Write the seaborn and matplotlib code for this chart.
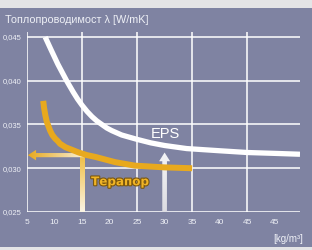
import numpy as np
import pandas as pd
import seaborn as sns
import matplotlib
matplotlib.use("Agg")
import matplotlib.pyplot as plt
from matplotlib.patches import FancyArrow, Arc, Rectangle
import matplotlib.patheffects as pe
from matplotlib.colors import LinearSegmentedColormap

# ---- data ----
eps_density = [8.3, 9.4, 10.6, 12.2, 13.4, 14.2, 15.0, 15.9, 16.8, 17.7, 18.6, 19.5, 20.4,
               22.2, 25.0, 27.5, 30.0, 34.0, 40.0, 45.0, 50.0, 54.6]
eps_lambda = [0.0450, 0.0435, 0.0419, 0.0400, 0.0387, 0.0379, 0.0372, 0.0365, 0.0359,
              0.0354, 0.0350, 0.0346, 0.0343, 0.0338, 0.0333, 0.0329, 0.0326, 0.03225,
              0.0320, 0.0318, 0.0317, 0.0316]
terapor_density = [7.95, 8.1, 8.35, 8.6, 8.9, 9.2, 9.6, 10.1, 10.6, 11.0, 12.0, 13.2, 14.4,
                   15.9, 17.4, 21.0, 24.6, 30.0, 35.0]
terapor_lambda = [0.0377, 0.0369, 0.0360, 0.0353, 0.0348, 0.0343, 0.0338, 0.0334, 0.0331,
                  0.0328, 0.0324, 0.0321, 0.0318, 0.0315, 0.0313, 0.0307, 0.0303, 0.0301, 0.0300]
marker_density = [15, 30]          # arrows: Terapor 15 kg/m3, EPS 30 kg/m3
marker_lambda = [0.0315, 0.0318]
x_ticks = [5, 10, 15, 20, 25, 30, 35, 40, 45, 50]
x_tick_labels = ["5", "10", "15", "20", "25", "30", "35", "40", "45", "45"]
y_ticks = [0.025, 0.030, 0.035, 0.040, 0.045]
y_tick_labels = ["0,025", "0,030", "0,035", "0,040", "0,045"]
x_grid = [5, 15, 25, 35, 45]
title = "Топлопроводимост λ [W/mK]"
x_unit = "[kg/m³]"

PANEL = "#7f83a2"
ORANGE = "#e8a91e"
WHITE = "#ffffff"
TXT = "#eef0f6"

sns.set_theme(style="white")
plt.rcParams["font.family"] = ["Liberation Sans", "DejaVu Sans"]

fig = plt.figure(figsize=(3.12, 2.5), dpi=100)
fig.patch.set_facecolor(PANEL)
fig.add_artist(Rectangle((0, 1 - 8 / 250), 1, 8 / 250, transform=fig.transFigure,
                         facecolor="#e4e4e6", edgecolor="none", zorder=0))
fig.add_artist(Rectangle((0, 0), 1, 3 / 250, transform=fig.transFigure,
                         facecolor="#e4e4e6", edgecolor="none", zorder=0))

ax = fig.add_axes([27 / 312, 1 - 212 / 250, 273 / 312, (212 - 31.5) / 250])
ax.set_facecolor(PANEL)
xlim = (5, 54.6)
ylim = (0.025, 0.045 + 5.5 / 8750)

for xv in x_grid:
    ax.axvline(xv, color=WHITE, lw=1.1, zorder=1)
for yv in y_ticks:
    ax.axhline(yv, color=WHITE, lw=1.1, zorder=1)
for s in ax.spines.values():
    s.set_visible(False)


def gradient_patch(patch, extent, c0, c1, vertical):
    ax.add_patch(patch)
    patch.set_facecolor("none")
    patch.set_edgecolor("none")
    cmap = LinearSegmentedColormap.from_list("g", [c0, c1])
    grad = np.linspace(0, 1, 256)
    img = grad.reshape(-1, 1) if vertical else grad.reshape(1, -1)
    im = ax.imshow(img, cmap=cmap, aspect="auto", origin="lower",
                   extent=extent, zorder=2, interpolation="bilinear")
    im.set_clip_path(patch)


# vertical orange bar at 15
d0 = marker_density[0]
l0 = marker_lambda[0]
bw = 0.8
bar = Rectangle((d0 - bw / 2, ylim[0]), bw, l0 + 0.0002 - ylim[0])
gradient_patch(bar, [d0 - bw / 2, d0 + bw / 2, ylim[0], l0 + 0.0002],
               "#fbf5e6", "#efbb3c", vertical=True)
# horizontal orange arrow to the left
hx0, hx1 = 5.15, d0 + 0.4
harrow = FancyArrow(hx1, l0, -(hx1 - hx0), 0, width=0.00048,
                    head_width=0.00120, head_length=1.5, length_includes_head=True)
gradient_patch(harrow, [hx0, hx1, l0 - 0.0007, l0 + 0.0007], ORANGE, "#f8f1dc", vertical=False)

# white arrow at 30
d1 = marker_density[1]
l1 = marker_lambda[1]
varrow = FancyArrow(d1, ylim[0], 0, l1 - ylim[0], width=0.85, head_width=2.0,
                    head_length=0.0010, length_includes_head=True)
gradient_patch(varrow, [d1 - 1.1, d1 + 1.1, ylim[0], l1], "#dcdce2", "#f4f4f6", vertical=True)

# curves
sns.lineplot(x=eps_density, y=eps_lambda, ax=ax, color=WHITE, linewidth=3.8,
             zorder=4, solid_capstyle="butt", solid_joinstyle="round")
sns.lineplot(x=terapor_density, y=terapor_lambda, ax=ax, color=ORANGE, linewidth=4.3,
             zorder=3, solid_capstyle="butt", solid_joinstyle="round")

ax.text(30.2, 0.03386, "EPS", color=WHITE, fontsize=10.5, ha="center", va="center", zorder=5)

# Terapor logo
lx, ly = 21.9, 0.02843
ax.add_patch(Arc((lx, ly), 12.8, 0.0022, theta1=10, theta2=170,
                 color="#d29414", lw=1.3, zorder=5))
ax.add_patch(Arc((lx, ly), 12.8, 0.0022, theta1=190, theta2=350,
                 color="#d29414", lw=1.3, zorder=5))
ax.text(lx, ly + 0.00003, "Терапор", color="#f0b425", fontsize=8.6, fontweight="bold",
        family=["DejaVu Sans"], ha="center", va="center", zorder=6,
        path_effects=[pe.withStroke(linewidth=1.6, foreground="#7a5710")])

ax.set_xlim(*xlim)
ax.set_ylim(*ylim)
ax.set_xticks(x_ticks)
ax.set_xticklabels(x_tick_labels)
ax.set_yticks(y_ticks)
ax.set_yticklabels(y_tick_labels)
ax.tick_params(axis="both", length=0, colors=TXT)
ax.tick_params(axis="x", pad=5, labelsize=6)
ax.tick_params(axis="y", pad=4, labelsize=5.5)
ax.set_xlabel("")
ax.set_ylabel("")

fig.text(5 / 312, 1 - 20 / 250, title, color=TXT, fontsize=7.8, ha="left", va="center")
fig.text(303 / 312, 1 - 239 / 250, x_unit, color=TXT, fontsize=7, ha="right", va="center")

fig.savefig("out.png", dpi=100, facecolor=fig.get_facecolor())
